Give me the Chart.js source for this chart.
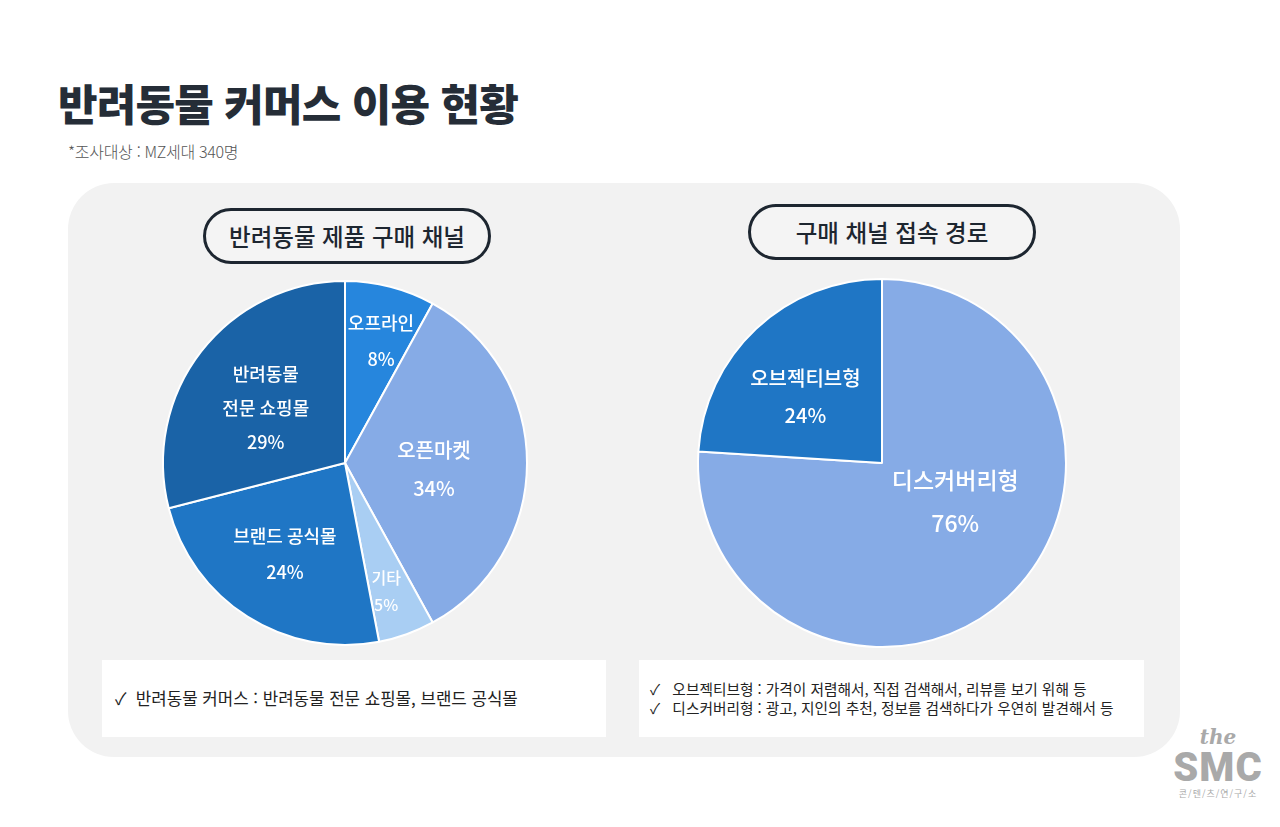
<!DOCTYPE html>
<html lang="ko">
<head>
<meta charset="utf-8">
<script src="https://cdn.jsdelivr.net/npm/chart.js@4"></script>
<style>
  html,body{margin:0;padding:0;background:#fff;}
  body{width:1280px;height:827px;position:relative;overflow:hidden;font-family:"Noto Sans CJK KR","Noto Sans",sans-serif;}
  .abs{position:absolute;}
  #title{left:58px;top:72px;font-size:43px;font-weight:900;color:#252d37;letter-spacing:-0.8px;line-height:60px;white-space:nowrap;}
  #sub{left:68px;top:139px;font-size:16px;color:#555;font-weight:300;white-space:nowrap;letter-spacing:-0.3px;}
  #panel{left:68px;top:183px;width:1112px;height:574px;background:#f2f2f2;border-radius:46px;}
  .pill{border:3px solid #1d2630;border-radius:30px;box-sizing:border-box;display:flex;align-items:center;justify-content:center;font-size:23.5px;font-weight:500;color:#1d2630;background:#f4f4f4;white-space:nowrap;}
  .note{background:#fff;box-sizing:border-box;font-size:15px;color:#222;white-space:nowrap;}
  .note div{position:absolute;}
  canvas{position:absolute;}
  #logo{left:1160px;top:726px;width:116px;text-align:center;color:#a9a9a9;}
</style>
</head>
<body>
<div id="title" class="abs">반려동물 커머스 이용 현황</div>
<div id="sub" class="abs">*조사대상 : MZ세대 340명</div>
<div id="panel" class="abs"></div>

<div class="abs pill" style="left:203px;top:208px;width:288px;height:56px;">반려동물 제품 구매 채널</div>
<div class="abs pill" style="left:748px;top:204px;width:288px;height:56px;">구매 채널 접속 경로</div>

<canvas id="leftPie" width="400" height="400" style="left:145px;top:263px;"></canvas>
<canvas id="rightPie" width="400" height="400" style="left:682px;top:263px;"></canvas>

<div class="abs note" style="left:102px;top:660px;width:504px;height:77px;">
  <div style="left:13px;top:26px;font-size:16.8px;">✓&nbsp;&nbsp;반려동물 커머스 : 반려동물 전문 쇼핑몰, 브랜드 공식몰</div>
</div>
<div class="abs note" style="left:639px;top:660px;width:505px;height:77px;">
  <div style="left:11px;top:18px;font-size:14.7px;">✓&nbsp;&nbsp;&nbsp;오브젝티브형 : 가격이 저렴해서, 직접 검색해서, 리뷰를 보기 위해 등</div>
  <div style="left:11px;top:37px;font-size:14.7px;">✓&nbsp;&nbsp;&nbsp;디스커버리형 : 광고, 지인의 추천, 정보를 검색하다가 우연히 발견해서 등</div>
</div>

<div id="logo" class="abs">
  <div style="font-family:'DejaVu Serif',serif;font-style:italic;font-weight:700;font-size:20px;line-height:22px;">the</div>
  <div style="font-family:Roboto,'Liberation Sans',sans-serif;font-weight:900;font-size:40px;line-height:40px;letter-spacing:1px;">SMC</div>
  <div style="font-size:9px;line-height:12px;letter-spacing:1px;">콘/텐/츠/연/구/소</div>
</div>

<script>
// ---- data ----
const channelCategories = ['오프라인', '오픈마켓', '기타', '브랜드 공식몰', '반려동물\n전문 쇼핑몰'];
const channelValues = [8, 34, 5, 24, 29];
const channelColors = ['#2686dd', '#86abe6', '#a9cef3', '#1f76c5', '#1a63a7'];

const pathCategories = ['디스커버리형', '오브젝티브형'];
const pathValues = [76, 24];
const pathColors = ['#86abe6', '#1f76c5'];

// ---- label layout (styling only) ----
const channelLabelStyle = {
  radiusFrac: [0.70, 0.49, 0.74, 0.60, 0.53],
  angleShift: [2, 4, 2, 1, -3],
  fontSize:   [18, 20, 16, 18, 18],
  lineGap:    [36, 38, 27, 36, 34]
};
const pathLabelStyle = {
  radiusFrac: [0.45, 0.55],
  angleShift: [-19, -6],
  fontSize:   [23, 20],
  lineGap:    [43, 37]
};

const sliceLabels = {
  id: 'sliceLabels',
  afterDatasetsDraw(chart, args, opts) {
    const ctx = chart.ctx;
    const meta = chart.getDatasetMeta(0);
    const values = chart.data.datasets[0].data;
    meta.data.forEach((arc, i) => {
      const p = arc.getProps(['x', 'y', 'startAngle', 'endAngle', 'outerRadius'], true);
      const mid = (p.startAngle + p.endAngle) / 2 + (opts.angleShift[i] || 0) * Math.PI / 180;
      const r = p.outerRadius * opts.radiusFrac[i];
      const cx = p.x + Math.cos(mid) * r;
      const cy = p.y + Math.sin(mid) * r;
      const lines = String(chart.data.labels[i]).split('\n');
      lines.push(values[i] + '%');
      const gap = opts.lineGap[i];
      const top = cy - gap * (lines.length - 1) / 2;
      ctx.save();
      ctx.fillStyle = '#ffffff';
      ctx.textAlign = 'center';
      ctx.textBaseline = 'middle';
      ctx.font = '500 ' + opts.fontSize[i] + 'px "Noto Sans CJK KR", "Noto Sans", sans-serif';
      lines.forEach((t, k) => ctx.fillText(t, cx, top + k * gap));
      ctx.restore();
    });
  }
};

function makePie(id, labels, values, colors, radius, labelStyle) {
  return new Chart(document.getElementById(id), {
    type: 'pie',
    data: {
      labels: labels,
      datasets: [{
        data: values,
        backgroundColor: colors,
        borderColor: '#ffffff',
        borderWidth: 2
      }]
    },
    options: {
      responsive: false,
      animation: false,
      radius: radius,
      layout: { padding: 0 },
      plugins: {
        legend: { display: false },
        tooltip: { enabled: false },
        sliceLabels: labelStyle
      }
    },
    plugins: [sliceLabels]
  });
}

makePie('leftPie', channelCategories, channelValues, channelColors, 182, channelLabelStyle);
makePie('rightPie', pathCategories, pathValues, pathColors, 184, pathLabelStyle);
</script>
</body>
</html>
